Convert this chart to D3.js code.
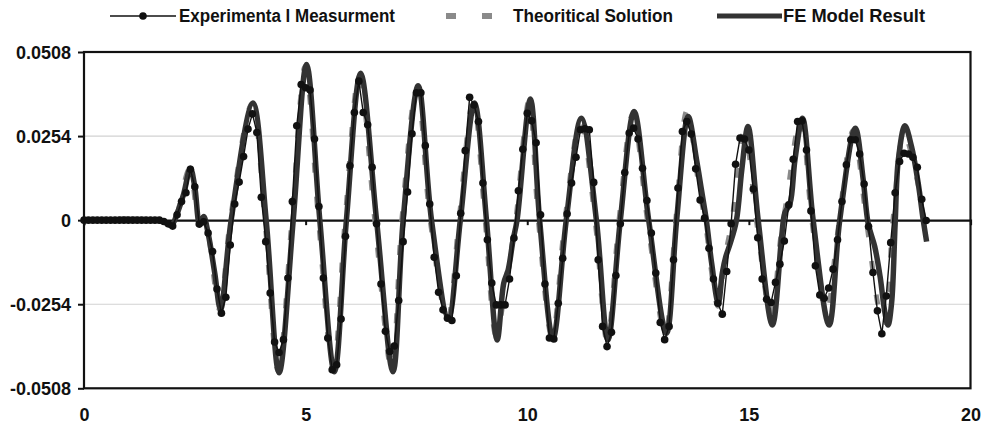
<!DOCTYPE html>
<html>
<head>
<meta charset="utf-8">
<script src="https://cdn.jsdelivr.net/npm/d3@7"></script>
<style>
  body { margin: 0; background: #fff; }
  svg { display: block; }
  .tickText { font-family: "Liberation Sans", Arial, sans-serif; font-weight: bold; font-size: 18px; fill: #111; }
  .legendText { font-family: "Liberation Sans Narrow", "Liberation Sans", Arial, sans-serif; font-weight: bold; font-size: 18px; fill: #111; }
</style>
</head>
<body>
<svg id="chart" width="986" height="428"></svg>
<script>
// ---- data ----
const xTicks = [0, 5, 10, 15, 20];
const yTicks = [-0.0508, -0.0254, 0, 0.0254, 0.0508];
const yTickLabels = ['-0.0508', '-0.0254', '0', '0.0254', '0.0508'];

const seriesNames = ['Experimenta l Measurment', 'Theoritical Solution', 'FE Model Result'];

// experimental samples, one every 0.1 s starting at t = 0
const expStart = 0;
const expStep = 0.1;
const expValues = [
  0, 0, 0, 0, 0, 0, 0, 0, 0, 0,
  0, 0, 0, 0, 0, 0, 0, 0, -0.0004, -0.0011,
  -0.0018, 0.0016, 0.0056, 0.0083, 0.0154, 0.0101, -0.0012, -0.0005, -0.0039, -0.0095,
  -0.0208, -0.0281, -0.0233, -0.0075, 0.0049, 0.0115, 0.0192, 0.0275, 0.0321, 0.0265,
  0.0069, -0.0065, -0.0220, -0.0368, -0.0400, -0.0361, -0.0175, 0.0056, 0.0285, 0.0410,
  0.0400, 0.0393, 0.0245, 0.0041, -0.0175, -0.0356, -0.0452, -0.0437, -0.0299, -0.0049,
  0.0164, 0.0325, 0.0420, 0.0325, 0.0288, 0.0160, -0.0011, -0.0193, -0.0336, -0.0397,
  -0.0380, -0.0243, -0.0065, 0.0085, 0.0261, 0.0385, 0.0385, 0.0225, 0.0049, -0.0112,
  -0.0218, -0.0271, -0.0296, -0.0303, -0.0168, 0.0021, 0.0210, 0.0371, 0.0348, 0.0298,
  0.0112, -0.0059, -0.0190, -0.0256, -0.0256, -0.0256, -0.0178, -0.0054, 0.0089, 0.0214,
  0.0323, 0.0300, 0.0234, 0.0016, -0.0193, -0.0356, -0.0359, -0.0251, -0.0115, 0.0019,
  0.0112, 0.0190, 0.0273, 0.0276, 0.0273, 0.0114, -0.0120, -0.0321, -0.0382, -0.0339,
  -0.0167, -0.0011, 0.0144, 0.0263, 0.0278, 0.0245, 0.0157, 0.0059, -0.0039, -0.0160,
  -0.0309, -0.0361, -0.0321, -0.0120, 0.0097, 0.0268, 0.0298, 0.0260, 0.0155, 0.0061,
  0.0006, -0.0085, -0.0178, -0.0251, -0.0284, -0.0155, -0.0011, 0.0169, 0.0248, 0.0245,
  0.0212, 0.0094, -0.0053, -0.0178, -0.0239, -0.0249, -0.0188, -0.0133, -0.0063, 0.0046,
  0.0184, 0.0298, 0.0300, 0.0212, 0.0028, -0.0138, -0.0226, -0.0236, -0.0205, -0.0148,
  -0.0059, 0.0056, 0.0167, 0.0243, 0.0243, 0.0200, 0.0109, -0.0019, -0.0158, -0.0274,
  -0.0343, -0.0229, -0.0068, 0.0083, 0.0177, 0.0202, 0.0200, 0.0190, 0.0160, 0.0063,
  -0.0001
];

// [time, value] at peaks, troughs, zero crossings and shoulders
const theoryPoints = [
  [0, 0], [1.65, 0], [1.97, -0.0015], [2.1, 0.002], [2.38, 0.0155], [2.6, -0.0012], [2.69, 0.001],
  [2.8, -0.004], [3.06, -0.027], [3.30, 0], [3.79, 0.0352], [4.08, 0], [4.38, -0.0455], [4.69, 0],
  [4.99, 0.0465], [5.29, 0], [5.62, -0.0452], [5.89, 0], [6.21, 0.0440], [6.56, 0], [6.94, -0.0452],
  [7.17, 0], [7.51, 0.0402], [7.81, 0], [8.20, -0.0300], [8.46, 0], [8.78, 0.0360], [9.05, 0],
  [9.30, -0.0350], [9.55, -0.0155], [9.74, 0], [10.04, 0.0362], [10.25, 0], [10.56, -0.0355],
  [10.85, 0], [11.20, 0.0300], [11.53, 0], [11.80, -0.0365], [12.07, 0], [12.38, 0.0320],
  [12.71, 0], [13.11, -0.0345], [13.35, 0], [13.60, 0.0330], [13.88, 0.0095], [14.01, 0],
  [14.30, -0.0260], [14.45, -0.012], [14.62, 0], [14.90, 0.027], [15.17, 0], [15.50, -0.029],
  [15.72, -0.005], [15.85, 0.006], [16.17, 0.031], [16.42, 0], [16.75, -0.028], [17.0, -0.004],
  [17.35, 0.027], [17.65, 0], [17.95, -0.028], [18.07, -0.032], [18.25, 0], [18.50, 0.026],
  [18.75, 0.015], [18.95, 0], [19.0, -0.0065]
];

const fePoints = [
  [0, 0], [1.65, 0], [1.8, -0.0004], [1.97, -0.0016], [2.1, 0.002], [2.25, 0.008], [2.40, 0.0157],
  [2.5, 0.010], [2.61, -0.0014], [2.70, 0.0011], [2.8, -0.004], [2.95, -0.016], [3.08, -0.027],
  [3.32, 0], [3.81, 0.0354], [4.11, 0], [4.40, -0.0461], [4.72, 0], [5.02, 0.0470], [5.32, 0],
  [5.65, -0.0458], [5.92, 0], [6.24, 0.0444], [6.60, 0], [6.97, -0.0458], [7.20, 0], [7.54, 0.0406],
  [7.84, 0], [8.22, -0.0295], [8.49, 0], [8.81, 0.0354], [9.08, 0], [9.32, -0.0362], [9.47, -0.019],
  [9.57, -0.015], [9.68, -0.006], [9.77, 0], [10.07, 0.0366], [10.28, 0], [10.58, -0.0357],
  [10.88, 0], [11.22, 0.0308], [11.56, 0], [11.82, -0.0362], [12.10, 0], [12.41, 0.0328],
  [12.74, 0], [13.14, -0.0342], [13.37, 0], [13.63, 0.0313], [13.82, 0.0182], [13.93, 0.0092],
  [14.04, 0], [14.16, -0.013], [14.31, -0.0251], [14.40, -0.016], [14.48, -0.011], [14.58, -0.007],
  [14.72, 0], [14.84, 0.0152], [14.98, 0.0283], [15.21, 0], [15.53, -0.0317], [15.74, -0.0049],
  [15.81, 0.0021], [15.93, 0.0051], [16.04, 0.0182], [16.21, 0.0308], [16.45, 0], [16.81, -0.0317],
  [17.05, 0], [17.40, 0.0278], [17.58, 0.0122], [17.69, -0.0009], [17.84, -0.008], [17.96, -0.017],
  [18.07, -0.028], [18.14, -0.0317], [18.22, -0.025], [18.30, -0.001], [18.37, 0.018],
  [18.52, 0.0285], [18.67, 0.0222], [18.82, 0.0112], [18.93, 0.0004], [19.01, -0.0065]
];

// ---- layout ----
const svg = d3.select('#chart');
const plot = { left: 84, right: 970.5, top: 52, bottom: 388.3 };

const x = d3.scaleLinear().domain([0, 20]).range([plot.left, plot.right]);
const y = d3.scaleLinear().domain([-0.0508, 0.0508]).range([plot.bottom, plot.top]);

const expPoints = expValues.map((v, i) => [expStart + i * expStep, v]);

// gridlines
svg.append('g')
  .selectAll('line')
  .data(yTicks.filter((d) => d !== 0 && Math.abs(d) < 0.05))
  .enter().append('line')
    .attr('x1', plot.left).attr('x2', plot.right)
    .attr('y1', (d) => y(d)).attr('y2', (d) => y(d))
    .attr('stroke', '#d2d2d2')
    .attr('stroke-width', 1.2);

// left axis with ticks and labels
const leftAxis = d3.axisLeft(y)
  .tickValues(yTicks)
  .tickSize(6)
  .tickPadding(7)
  .tickFormat((d, i) => yTickLabels[i]);

const gLeft = svg.append('g')
  .attr('transform', `translate(${plot.left}, 0)`)
  .call(leftAxis);
gLeft.select('.domain').remove();
gLeft.selectAll('line').attr('stroke', '#111').attr('stroke-width', 2);
gLeft.selectAll('text').attr('class', 'tickText').attr('dy', '0.34em');

// zero line with small ticks
const zeroAxis = d3.axisBottom(x)
  .tickValues(xTicks.filter((d) => d > 0 && d < 20))
  .tickSize(5)
  .tickFormat('');

const gZero = svg.append('g')
  .attr('transform', `translate(0, ${y(0)})`)
  .call(zeroAxis);
gZero.select('.domain').attr('stroke', '#111').attr('stroke-width', 2.2);
gZero.selectAll('line').attr('stroke', '#111').attr('stroke-width', 2);

// x labels under the plot
const bottomAxis = d3.axisBottom(x)
  .tickValues(xTicks)
  .tickSize(0)
  .tickPadding(20);

const gBottom = svg.append('g')
  .attr('transform', `translate(0, ${plot.bottom})`)
  .call(bottomAxis);
gBottom.select('.domain').remove();
gBottom.selectAll('text').attr('class', 'tickText');

// plot border
svg.append('rect')
  .attr('x', plot.left).attr('y', plot.top)
  .attr('width', plot.right - plot.left)
  .attr('height', plot.bottom - plot.top)
  .attr('fill', 'none')
  .attr('stroke', '#111')
  .attr('stroke-width', 2.2);

// ---- series ----
const smooth = d3.line()
  .x((d) => x(d[0]))
  .y((d) => y(d[1]))
  .curve(d3.curveCatmullRom.alpha(0.5));

const straight = d3.line()
  .x((d) => x(d[0]))
  .y((d) => y(d[1]));

svg.append('path')
  .datum(theoryPoints)
  .attr('d', smooth)
  .attr('fill', 'none')
  .attr('stroke', '#8a8a8a')
  .attr('stroke-width', 5)
  .attr('stroke-dasharray', '10,24');

svg.append('path')
  .datum(fePoints)
  .attr('d', smooth)
  .attr('fill', 'none')
  .attr('stroke', '#333')
  .attr('stroke-width', 5.5)
  .attr('stroke-linejoin', 'round');

// measured points go on top, as in the original
const expG = svg.append('g');
expG.append('path')
  .datum(expPoints)
  .attr('d', straight)
  .attr('fill', 'none')
  .attr('stroke', '#111')
  .attr('stroke-width', 1.4);

expG.selectAll('circle')
  .data(expPoints)
  .enter().append('circle')
    .attr('cx', (d) => x(d[0]))
    .attr('cy', (d) => y(d[1]))
    .attr('r', 3.8)
    .attr('fill', '#111');

// ---- legend ----
const legend = svg.append('g');
const ly = 16;

legend.append('line')
  .attr('x1', 110).attr('x2', 176).attr('y1', ly).attr('y2', ly)
  .attr('stroke', '#111').attr('stroke-width', 1.6);
legend.append('circle')
  .attr('cx', 143).attr('cy', ly).attr('r', 3.8).attr('fill', '#111');

legend.append('line')
  .attr('x1', 446).attr('x2', 494).attr('y1', ly).attr('y2', ly)
  .attr('stroke', '#8a8a8a').attr('stroke-width', 6)
  .attr('stroke-dasharray', '10,26');

legend.append('line')
  .attr('x1', 717).attr('x2', 782).attr('y1', ly).attr('y2', ly)
  .attr('stroke', '#333').attr('stroke-width', 5);

const legendText = [
  { name: seriesNames[0], x: 179, w: 216 },
  { name: seriesNames[1], x: 513, w: 160 },
  { name: seriesNames[2], x: 783, w: 142 }
];

legend.selectAll('text')
  .data(legendText)
  .enter().append('text')
    .attr('class', 'legendText')
    .attr('x', (d) => d.x)
    .attr('y', ly + 6)
    .attr('textLength', (d) => d.w)
    .attr('lengthAdjust', 'spacingAndGlyphs')
    .text((d) => d.name);
</script>
</body>
</html>
